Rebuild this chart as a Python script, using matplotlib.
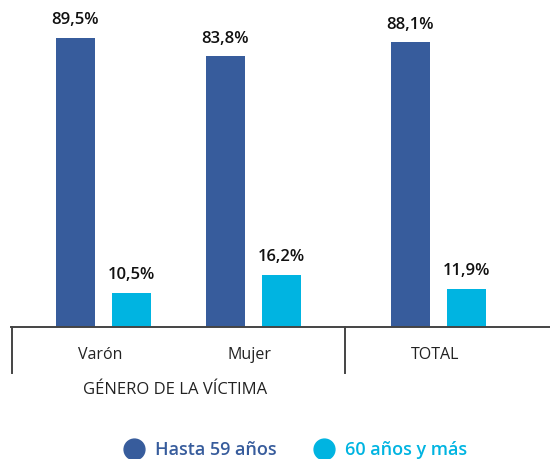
import matplotlib.pyplot as plt
from matplotlib.lines import Line2D

# === DATA ===
categories = ["Varón", "Mujer", "TOTAL"]
hasta_59 = [89.5, 83.8, 88.1]
mas_60 = [10.5, 16.2, 11.9]
series_names = ["Hasta 59 años", "60 años y más"]
group_title = "GÉNERO DE LA VÍCTIMA"

# === STYLE ===
DARK = "#375c9c"
LIGHT = "#00b4e1"
LINE = "#444444"
positions = [0, 1, 2.233]
width = 0.26
offset = 0.187

fig = plt.figure(figsize=(5.5, 4.59), dpi=100)
ax = fig.add_axes([0.02, 0.2876, 0.98, 0.7037])
ax.set_xlim(-0.617, 2.977)
ax.set_ylim(0, 100)

def fmt(v):
    return f"{v:.1f}".replace(".", ",") + "%"

for pos, a, b in zip(positions, hasta_59, mas_60):
    ax.bar(pos - offset, a, width, color=DARK)
    ax.bar(pos + offset, b, width, color=LIGHT)
    for x, v in ((pos - offset, a), (pos + offset, b)):
        ax.annotate(fmt(v), (x, v), xytext=(0, 7), textcoords="offset points",
                    ha="center", va="bottom", fontsize=12, fontweight="semibold",
                    color="#111111", family="Open Sans")

for s in ax.spines.values():
    s.set_visible(False)
ax.set_xticks([])
ax.set_yticks([])

# baseline and separators below the axis
trans = ax.get_xaxis_transform()
ax.plot([-0.617, 2.977], [0, 0], color=LINE, lw=1.4, transform=trans, clip_on=False)
for x in (-0.612, 1.61):
    ax.plot([x, x], [0, -0.142], color=LINE, lw=1.4, transform=trans, clip_on=False)

for pos, name in zip(positions, categories):
    ax.text(pos - 0.025, -0.087, name, transform=trans, ha="center", va="center",
            fontsize=11.5, color="#222222", family="Open Sans")
ax.text(0.48, -0.196, group_title, transform=trans, ha="center", va="center",
        fontsize=12, color="#222222", family="Open Sans")

# legend with coloured labels
handles = [Line2D([], [], marker="o", linestyle="none", markersize=15, color=c)
           for c in (DARK, LIGHT)]
fig.legend(handles, series_names, loc="center", bbox_to_anchor=(0.53, 0.02),
           ncol=2, frameon=False, labelcolor=[DARK, LIGHT],
           handletextpad=0.2, columnspacing=1.6,
           prop={"family": "Open Sans", "size": 13, "weight": "semibold"})

fig.savefig("out.png", dpi=100)
